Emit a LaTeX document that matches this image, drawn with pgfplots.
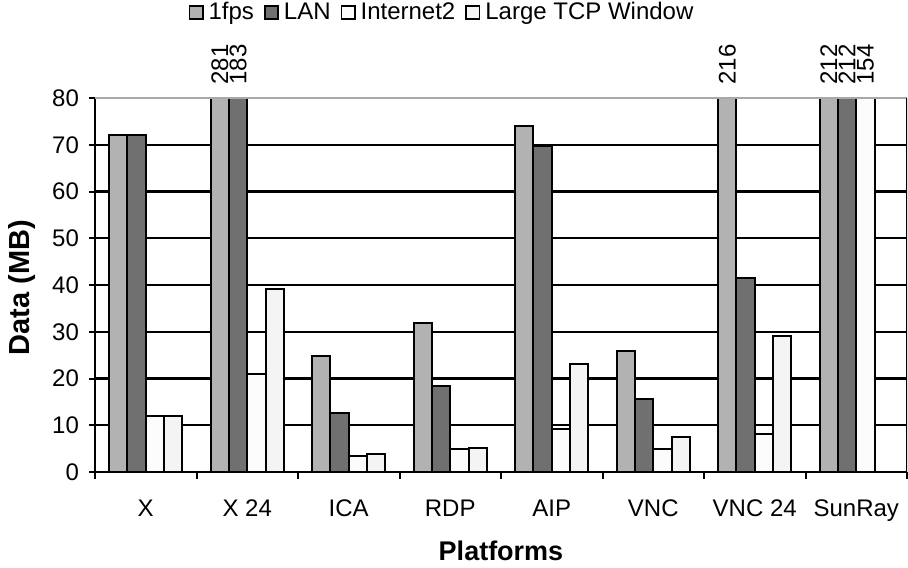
\documentclass[border=0pt]{standalone}
\usepackage{pgfplots}
\pgfplotsset{compat=1.18}
\usepackage{fontspec}
\setmainfont{Liberation Sans}
\definecolor{cA}{HTML}{B2B2B2}
\definecolor{cB}{HTML}{707070}
\definecolor{cC}{HTML}{FCFCFC}
\definecolor{cD}{HTML}{F4F4F4}
\definecolor{topgray}{HTML}{A8A8A8}
\pgfplotsset{
  sqlegend/.style={legend image code/.code={\draw[##1, draw=black, line width=0.9pt] (0pt,-3.3pt) rectangle (6.6pt,3.3pt);}},
  mybar/.style={ybar, bar width=0.18, bar shift=#1, draw=black, line width=1pt, sqlegend},
}
\begin{document}
\begin{tikzpicture}
\begin{axis}[
  scale only axis, width=406pt, height=187pt,
  xmin=-0.5, xmax=7.5, ymin=0, ymax=80,
  axis x line*=bottom, axis y line*=left,
  axis line style={black, line width=1pt},
  ytick={0,10,...,80},
  xtick={0,...,7},
  xticklabels={X, X 24, ICA, RDP, AIP, VNC, VNC 24, SunRay},
  minor xtick={-0.5,0.5,...,7.5},
  major x tick style={draw=none},
  minor x tick style={black, line width=1pt},
  major y tick style={black, line width=1pt},
  xtick align=outside, ytick align=center,
  major tick length=6pt, minor tick length=3.5pt,
  extra y ticks={10,20,...,70}, extra y tick labels={},
  extra y tick style={grid=major, major grid style={black, line width=1.1pt}, major tick length=6pt},
  tick label style={font=\fontsize{12}{14}\selectfont},
  /pgf/number format/assume math mode=true,
  xticklabel style={yshift=-4.5pt},
  yticklabel style={xshift=-1.5pt},
  xlabel={Platforms}, ylabel={Data (MB)},
  every axis x label/.style={at={(axis description cs:0.5,-0.211)}, anchor=center, font=\bfseries\fontsize{13.5}{15}\selectfont},
  every axis y label/.style={at={(axis description cs:-0.0899,0.493)}, anchor=center, rotate=90, font=\bfseries\fontsize{14.5}{16}\selectfont},
  legend style={at={(axis description cs:0.4267,1.228)}, anchor=center, draw=none, fill=none,
    font=\fontsize{12}{14}\selectfont, legend columns=-1,
    nodes={inner sep=0.5pt},
    /tikz/every odd column/.append style={column sep=2pt},
    /tikz/every even column/.append style={column sep=4.5pt}},
  clip=true,
]
\addplot[mybar=-0.27, fill=cA] coordinates {(0,72.1) (1,281) (2,24.8) (3,31.8) (4,74.1) (5,25.9) (6,216) (7,212)};
\addlegendentry{1fps}
\addplot[mybar=-0.09, fill=cB] coordinates {(0,72.1) (1,183) (2,12.7) (3,18.4) (4,69.8) (5,15.7) (6,41.6) (7,212)};
\addlegendentry{LAN}
\addplot[mybar=0.09, fill=cC] coordinates {(0,11.9) (1,20.9) (2,3.4) (3,5.0) (4,9.3) (5,5.0) (6,8.1) (7,154)};
\addlegendentry{Internet2}
\addplot[mybar=0.27, fill=cD] coordinates {(0,11.9) (1,39.2) (2,3.8) (3,5.1) (4,23.1) (5,7.5) (6,29.1)};
\addlegendentry{Large TCP Window}
\addplot[only marks, mark=none, draw=none, fill=none, forget plot,
  nodes near coords, point meta=explicit symbolic,
  nodes near coords align={anchor=west},
  every node near coord/.append style={rotate=90, anchor=west, inner xsep=6.5pt, inner ysep=0pt, font=\fontsize{12}{14}\selectfont, text=black}]
  coordinates {(0.73,80) [281] (0.91,80) [183] (5.73,80) [216] (6.73,80) [212] (6.91,80) [212] (7.09,80) [154]};
\draw[topgray, line width=0.8pt] (rel axis cs:0,1) -- (rel axis cs:1,1);
\draw[black, line width=0.8pt] (rel axis cs:1,0) -- (rel axis cs:1,1);
\end{axis}
\pgfresetboundingbox
\path[use as bounding box] ([xshift=-47.5pt,yshift=-47.5pt]current axis.south west) rectangle ([xshift=0.5pt,yshift=49pt]current axis.north east);
\end{tikzpicture}
\end{document}
